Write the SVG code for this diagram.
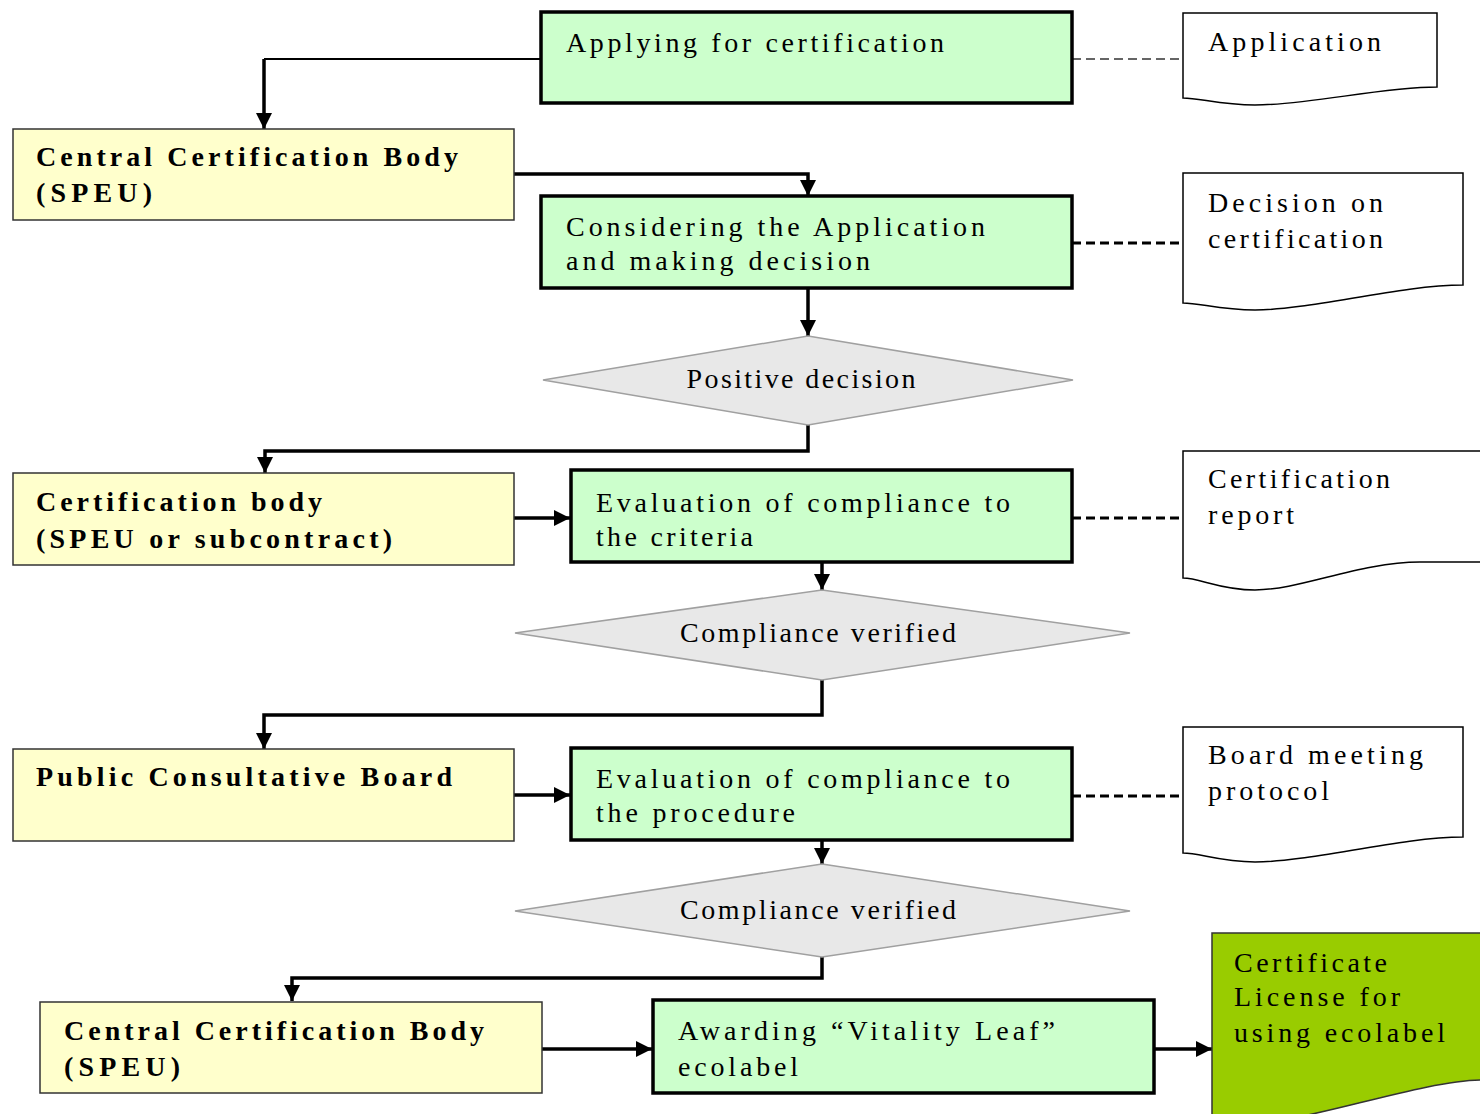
<svg xmlns="http://www.w3.org/2000/svg" width="1480" height="1114" viewBox="0 0 1480 1114">
<style>
.bg{fill:#ffffff}
.proc{fill:#ccffcc;stroke:#000;stroke-width:3.5}
.actor{fill:#ffffcc;stroke:#333;stroke-width:1.5}
.dec{fill:#e8e8e8;stroke:#a0a0a0;stroke-width:1.5}
.doc{fill:#ffffff;stroke:#000;stroke-width:1.5}
.doc2{fill:#99cc00;stroke:#333;stroke-width:1.5}
.t{font-family:"Liberation Serif","DejaVu Serif","Times New Roman",serif;font-size:28px;fill:#000}
.b{font-weight:bold}
.ln{fill:none;stroke:#000;stroke-width:3.5}
.thin{fill:none;stroke:#000;stroke-width:2}
.dash{fill:none;stroke:#000;stroke-width:3;stroke-dasharray:9,5}
.dasht{fill:none;stroke:#333;stroke-width:1.5;stroke-dasharray:9,5}
</style>
<defs>
<marker id="arr" viewBox="0 0 10 10" refX="10" refY="5" markerWidth="16" markerHeight="16" markerUnits="userSpaceOnUse" orient="auto">
<path d="M0,0 L10,5 L0,10 z" fill="#000"/>
</marker>
</defs>
<rect class="bg" x="0" y="0" width="1480" height="1114"/>

<g id="connectors">
<path class="thin" d="M541,59 H264"/>
<path class="ln" d="M264,59 V129" marker-end="url(#arr)"/>
<path class="ln" d="M514,174 H808 V196" marker-end="url(#arr)"/>
<path class="ln" d="M808,288 V336" marker-end="url(#arr)"/>
<path class="ln" d="M808,425 V451 H265 V473" marker-end="url(#arr)"/>
<path class="ln" d="M514,518 H570" marker-end="url(#arr)"/>
<path class="ln" d="M822,562 V590" marker-end="url(#arr)"/>
<path class="ln" d="M822,680 V715 H264 V749" marker-end="url(#arr)"/>
<path class="ln" d="M514,795 H570" marker-end="url(#arr)"/>
<path class="ln" d="M822,840 V864" marker-end="url(#arr)"/>
<path class="ln" d="M822,957 V978 H292 V1001" marker-end="url(#arr)"/>
<path class="ln" d="M542,1049 H652" marker-end="url(#arr)"/>
<path class="ln" d="M1154,1049 H1212" marker-end="url(#arr)"/>
<path class="dasht" d="M1072,59 H1183"/>
<path class="dash" d="M1072,243 H1183"/>
<path class="dash" d="M1072,518 H1183"/>
<path class="dash" d="M1072,796 H1183"/>
</g>

<g id="apply">
<rect class="proc" x="541" y="12" width="531" height="91"/>
<text class="t" x="566" y="52" textLength="378" lengthAdjust="spacing">Applying for certification</text>
</g>
<g id="doc-application">
<path class="doc" d="M1183,13 H1437 V87 C1380,87 1310,105 1255,105 C1220,105 1200,98 1183,98 Z"/>
<text class="t" x="1208" y="51" textLength="173" lengthAdjust="spacing">Application</text>
</g>

<g id="ccb1">
<rect class="actor" x="13" y="129" width="501" height="91"/>
<text class="t b" x="36" y="166" textLength="422" lengthAdjust="spacing">Central Certification Body</text>
<text class="t b" x="36" y="202" textLength="116" lengthAdjust="spacing">(SPEU)</text>
</g>

<g id="considering">
<rect class="proc" x="541" y="196" width="531" height="92"/>
<text class="t" x="566" y="236" textLength="419" lengthAdjust="spacing">Considering the Application</text>
<text class="t" x="566" y="270" textLength="304" lengthAdjust="spacing">and making decision</text>
</g>
<g id="doc-decision">
<path class="doc" d="M1183,173 H1463 V285 C1400,285 1310,310 1255,310 C1220,310 1200,303 1183,303 Z"/>
<text class="t" x="1208" y="212" textLength="175" lengthAdjust="spacing">Decision on</text>
<text class="t" x="1208" y="248" textLength="175" lengthAdjust="spacing">certification</text>
</g>

<g id="positive">
<polygon class="dec" points="808,336 1073,380 808,425 543,380"/>
<text class="t" x="801" y="388" text-anchor="middle" textLength="229" lengthAdjust="spacing">Positive decision</text>
</g>

<g id="cb">
<rect class="actor" x="13" y="473" width="501" height="92"/>
<text class="t b" x="36" y="511" textLength="286" lengthAdjust="spacing">Certification body</text>
<text class="t b" x="36" y="548" textLength="356" lengthAdjust="spacing">(SPEU or subcontract)</text>
</g>

<g id="eval-criteria">
<rect class="proc" x="571" y="470" width="501" height="92"/>
<text class="t" x="596" y="512" textLength="414" lengthAdjust="spacing">Evaluation of compliance to</text>
<text class="t" x="596" y="546" textLength="157" lengthAdjust="spacing">the criteria</text>
</g>
<g id="doc-report">
<path class="doc" d="M1183,451 H1482 V562 H1420 C1360,562 1300,590 1255,590 C1220,590 1200,578 1183,578 Z"/>
<text class="t" x="1208" y="488" textLength="182" lengthAdjust="spacing">Certification</text>
<text class="t" x="1208" y="524" textLength="86" lengthAdjust="spacing">report</text>
</g>

<g id="verified1">
<polygon class="dec" points="822,590 1130,633 822,680 515,633"/>
<text class="t" x="818" y="642" text-anchor="middle" textLength="276" lengthAdjust="spacing">Compliance verified</text>
</g>

<g id="pcb">
<rect class="actor" x="13" y="749" width="501" height="92"/>
<text class="t b" x="36" y="786" textLength="416" lengthAdjust="spacing">Public Consultative Board</text>
</g>

<g id="eval-procedure">
<rect class="proc" x="571" y="748" width="501" height="92"/>
<text class="t" x="596" y="788" textLength="414" lengthAdjust="spacing">Evaluation of compliance to</text>
<text class="t" x="596" y="822" textLength="199" lengthAdjust="spacing">the procedure</text>
</g>
<g id="doc-protocol">
<path class="doc" d="M1183,727 H1463 V837 C1400,837 1310,862 1255,862 C1220,862 1200,853 1183,853 Z"/>
<text class="t" x="1208" y="764" textLength="215" lengthAdjust="spacing">Board meeting</text>
<text class="t" x="1208" y="800" textLength="121" lengthAdjust="spacing">protocol</text>
</g>

<g id="verified2">
<polygon class="dec" points="822,864 1130,911 822,957 515,911"/>
<text class="t" x="818" y="919" text-anchor="middle" textLength="276" lengthAdjust="spacing">Compliance verified</text>
</g>

<g id="ccb2">
<rect class="actor" x="40" y="1002" width="502" height="91"/>
<text class="t b" x="64" y="1040" textLength="420" lengthAdjust="spacing">Central Certification Body</text>
<text class="t b" x="64" y="1076" textLength="116" lengthAdjust="spacing">(SPEU)</text>
</g>

<g id="awarding">
<rect class="proc" x="653" y="1000" width="501" height="93"/>
<text class="t" x="678" y="1040" textLength="377" lengthAdjust="spacing">Awarding “Vitality Leaf”</text>
<text class="t" x="678" y="1076" textLength="120" lengthAdjust="spacing">ecolabel</text>
</g>

<g id="doc-certificate">
<path class="doc2" d="M1212,933 H1482 V1080 C1430,1080 1330,1114 1280,1120 L1212,1120 Z"/>
<text class="t" x="1234" y="972" textLength="153" lengthAdjust="spacing">Certificate</text>
<text class="t" x="1234" y="1006" textLength="166" lengthAdjust="spacing">License for</text>
<text class="t" x="1234" y="1042" textLength="211" lengthAdjust="spacing">using ecolabel</text>
</g>
</svg>
